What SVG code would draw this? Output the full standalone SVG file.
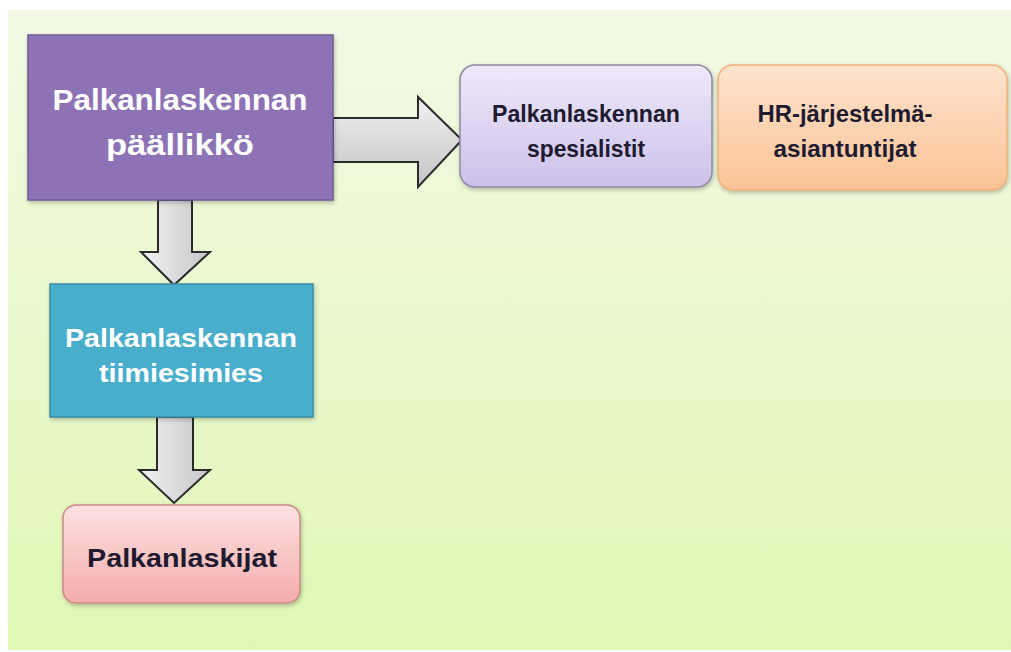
<svg xmlns="http://www.w3.org/2000/svg" width="1011" height="652" viewBox="0 0 1011 652">
<defs>
<linearGradient id="bg" x1="0" y1="0" x2="0" y2="1">
<stop offset="0" stop-color="#f3f9e4"/>
<stop offset="1" stop-color="#e0f8b6"/>
</linearGradient>
<linearGradient id="arrH" x1="0" y1="0" x2="0" y2="1">
<stop offset="0" stop-color="#f0f0f0"/>
<stop offset="1" stop-color="#c4c4c4"/>
</linearGradient>
<linearGradient id="arrV" x1="0" y1="0" x2="1" y2="0">
<stop offset="0" stop-color="#f2f2f2"/>
<stop offset="1" stop-color="#c6c6c6"/>
</linearGradient>
<linearGradient id="lav" x1="0" y1="0" x2="0" y2="1">
<stop offset="0" stop-color="#efe9fa"/>
<stop offset="1" stop-color="#cdc0ea"/>
</linearGradient>
<linearGradient id="ora" x1="0" y1="0" x2="0" y2="1">
<stop offset="0" stop-color="#fde3cd"/>
<stop offset="1" stop-color="#fbc496"/>
</linearGradient>
<linearGradient id="pnk" x1="0" y1="0" x2="0" y2="1">
<stop offset="0" stop-color="#fde1e1"/>
<stop offset="1" stop-color="#f3adab"/>
</linearGradient>
<filter id="sh" x="-10%" y="-10%" width="130%" height="130%">
<feDropShadow dx="1" dy="2" stdDeviation="2" flood-color="#000" flood-opacity="0.25"/>
</filter>
</defs>
<style>
.t{font-family:"Liberation Sans",Arial,sans-serif;font-weight:bold;text-anchor:middle}
.w{fill:#ffffff}
.d{fill:#1e1a30}
.arr{stroke:#2a2a2a;stroke-width:2;stroke-linejoin:miter}
</style>
<rect x="0" y="0" width="1011" height="652" fill="#ffffff"/>
<rect x="8" y="10" width="1003" height="640" fill="url(#bg)"/>

<g id="connectors">
<path class="arr" fill="url(#arrH)" d="M333,118 H418 V97 L462,140 L418,187 V162 H333 Z"/>
<path class="arr" fill="url(#arrV)" d="M158,200 V252 H141 L174,285 L210,252 H192 V200 Z"/>
<path class="arr" fill="url(#arrV)" d="M157,417 V470 H139 L174,503 L210,470 H193 V417 Z"/>
</g>

<g id="n-paallikko">
<rect x="28" y="35" width="305" height="165" fill="#8d73b5" stroke="#6f5a95" stroke-width="1.5" filter="url(#sh)"/>
<text class="t w" x="180" y="110" font-size="29" textLength="255" lengthAdjust="spacingAndGlyphs">Palkanlaskennan</text>
<text class="t w" x="180" y="155" font-size="29" textLength="148" lengthAdjust="spacingAndGlyphs">päällikkö</text>
</g>

<g id="n-tiimiesimies">
<rect x="50" y="284" width="263" height="133" fill="#4aaecb" stroke="#3a8ca5" stroke-width="1.5" filter="url(#sh)"/>
<text class="t w" x="181" y="347" font-size="25" textLength="232" lengthAdjust="spacingAndGlyphs">Palkanlaskennan</text>
<text class="t w" x="181" y="382" font-size="25" textLength="164" lengthAdjust="spacingAndGlyphs">tiimiesimies</text>
</g>

<g id="n-palkanlaskijat">
<rect x="63" y="505" width="237" height="98" rx="13" fill="url(#pnk)" stroke="#c98a86" stroke-width="1.5" filter="url(#sh)"/>
<text class="t d" x="182" y="567" font-size="26" textLength="190" lengthAdjust="spacingAndGlyphs">Palkanlaskijat</text>
</g>

<g id="n-spesialistit">
<rect x="460" y="65" width="252" height="122" rx="15" fill="url(#lav)" stroke="#8e88a0" stroke-width="1.5" filter="url(#sh)"/>
<text class="t d" x="586" y="122" font-size="23.5" textLength="188" lengthAdjust="spacingAndGlyphs">Palkanlaskennan</text>
<text class="t d" x="586" y="157" font-size="23.5" textLength="118" lengthAdjust="spacingAndGlyphs">spesialistit</text>
</g>

<g id="n-hr">
<rect x="718" y="65" width="289" height="125" rx="15" fill="url(#ora)" stroke="#f0b07c" stroke-width="1.5" filter="url(#sh)"/>
<text class="t d" x="845" y="122" font-size="23.5" textLength="175" lengthAdjust="spacingAndGlyphs">HR-järjestelmä-</text>
<text class="t d" x="845" y="157" font-size="23.5" textLength="143" lengthAdjust="spacingAndGlyphs">asiantuntijat</text>
</g>
</svg>
